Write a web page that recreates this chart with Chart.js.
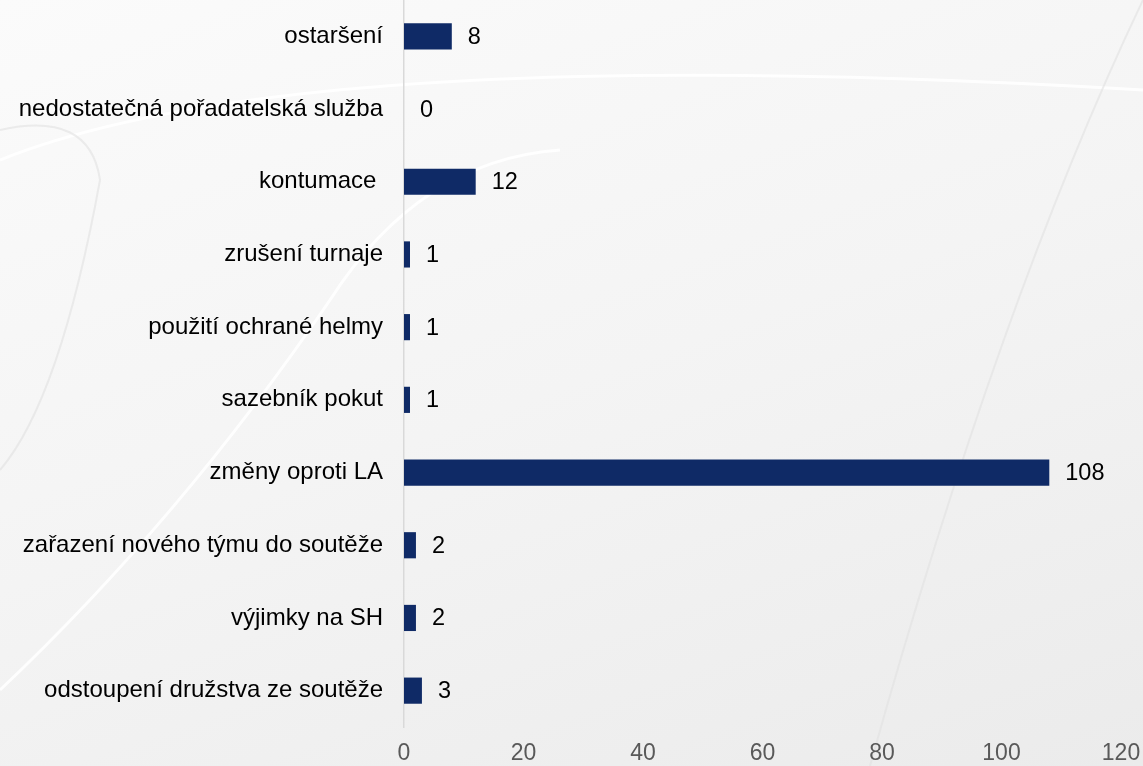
<!DOCTYPE html>
<html lang="cs">
<head>
    <meta charset="UTF-8">
    <title>Chart</title>
    <script src="https://cdn.jsdelivr.net/npm/chart.js"></script>
    <style>
        body {
            margin: 0;
            padding: 0;
            background: linear-gradient(160deg, #fbfbfb 0%, #f4f4f4 50%, #ebebeb 100%);
            overflow: hidden;
        }
        .wrap {
            width: 1143px;
            height: 766px;
        }
    </style>
</head>
<body>
    <div class="wrap">
        <canvas id="chart" width="1143" height="766"></canvas>
    </div>

    <script>
        // data
        const categories = [
            'ostaršení',
            'nedostatečná pořadatelská služba',
            'kontumace ',
            'zrušení turnaje',
            'použití ochrané helmy',
            'sazebník pokut',
            'změny oproti LA',
            'zařazení nového týmu do soutěže',
            'výjimky na SH',
            'odstoupení družstva ze soutěže'
        ];
        const counts = [8, 0, 12, 1, 1, 1, 108, 2, 2, 3];
        const xTicks = [0, 20, 40, 60, 80, 100, 120];

        const barColor = '#0f2a66';
        const fontFamily = 'Arial, "Liberation Sans", sans-serif';

        // faint curved shapes in the background
        const backdrop = {
            id: 'backdrop',
            beforeDraw(chart) {
                const c = chart.ctx;
                c.save();
                c.strokeStyle = 'rgba(255,255,255,0.9)';
                c.lineWidth = 3;
                c.beginPath();
                c.moveTo(0, 160);
                c.quadraticCurveTo(300, 40, 1143, 90);
                c.stroke();
                c.beginPath();
                c.moveTo(0, 690);
                c.quadraticCurveTo(180, 520, 330, 300);
                c.quadraticCurveTo(420, 160, 560, 150);
                c.stroke();
                c.strokeStyle = 'rgba(225,225,225,0.6)';
                c.lineWidth = 2;
                c.beginPath();
                c.moveTo(0, 130);
                c.quadraticCurveTo(90, 110, 100, 180);
                c.quadraticCurveTo(60, 400, 0, 470);
                c.stroke();
                c.beginPath();
                c.moveTo(1143, 0);
                c.quadraticCurveTo(1000, 300, 870, 766);
                c.stroke();
                c.restore();
            }
        };

        // value labels next to bars
        const valueLabels = {
            id: 'valueLabels',
            afterDatasetsDraw(chart) {
                const c = chart.ctx;
                const meta = chart.getDatasetMeta(0);
                c.save();
                c.font = '23.5px ' + fontFamily;
                c.fillStyle = '#000';
                c.textAlign = 'left';
                c.textBaseline = 'middle';
                meta.data.forEach((bar, i) => {
                    c.fillText(String(counts[i]), bar.x + 16, bar.y + 1);
                });
                c.restore();
            }
        };

        new Chart(document.getElementById('chart'), {
            type: 'bar',
            data: {
                labels: categories,
                datasets: [{
                    data: counts,
                    backgroundColor: barColor,
                    borderWidth: 0,
                    categoryPercentage: 0.72,
                    barPercentage: 0.5
                }]
            },
            options: {
                indexAxis: 'y',
                responsive: false,
                animation: false,
                layout: { padding: { top: 0, right: 22, left: 0, bottom: 0 } },
                plugins: {
                    legend: { display: false },
                    tooltip: { enabled: false }
                },
                scales: {
                    x: {
                        min: 0,
                        max: 120,
                        afterBuildTicks(scale) {
                            scale.ticks = xTicks.map(v => ({ value: v }));
                        },
                        afterFit(scale) {
                            scale.height = 39;
                            scale.paddingLeft = 0;
                            scale.paddingRight = 0;
                        },
                        grid: { display: false, drawTicks: false },
                        border: { display: false },
                        ticks: {
                            color: '#595959',
                            padding: 13,
                            font: { family: fontFamily, size: 23 }
                        }
                    },
                    y: {
                        afterFit(scale) {
                            scale.width = 404;
                            scale.paddingTop = 0;
                            scale.paddingBottom = 0;
                        },
                        grid: { display: false, drawTicks: false },
                        border: { display: true, color: '#d9d9d9', width: 1.5 },
                        ticks: {
                            color: '#000',
                            padding: 21,
                            autoSkip: false,
                            font: { family: fontFamily, size: 24 }
                        }
                    }
                }
            },
            plugins: [backdrop, valueLabels]
        });
    </script>
</body>
</html>
